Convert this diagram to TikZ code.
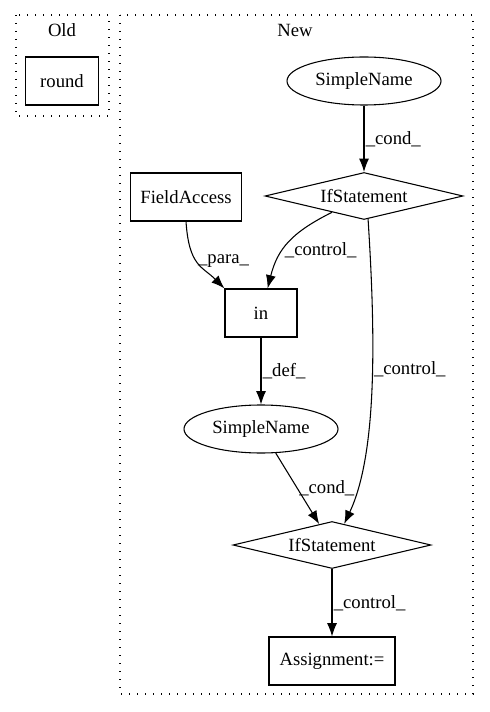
\documentclass[tikz,border=0pt]{standalone}
\usepackage{fontspec}
\setmainfont{Liberation Serif}
\usetikzlibrary{shapes.geometric, arrows.meta, positioning}
\tikzstyle{box} = [rectangle, draw=black, line width=0.8pt, minimum height=36pt, inner sep=0pt]
\tikzstyle{oval} = [ellipse, draw=black, line width=0.8pt, minimum width=115.5pt, minimum height=36pt, inner sep=0pt]
\tikzstyle{decision} = [diamond, aspect=4, draw=black, line width=0.8pt, minimum width=148.5pt, minimum height=35.25pt, inner sep=0pt]
\tikzstyle{cluster} = [draw=black, line width=1pt, dash pattern=on 1pt off 5pt]
\tikzstyle{arrow} = [line width=0.8pt, -{Latex[length=10pt,width=7.5pt]}]
\tikzstyle{lbl} = [anchor=west, inner sep=1pt]

\begin{document}
\begin{tikzpicture}[x=0.75pt, y=-0.75pt, font=\fontsize{14}{16}\selectfont]
\useasboundingbox (0,0) rectangle (489,712);

% Clusters
\draw [cluster] (16,15) rectangle (109,116);
\node (oldlabel) at (62,30) {Old};
\draw [cluster] (120,15) rectangle (473,694);
\node (newlabel) at (295,30) {New};

% Old
\node (round) [box, minimum width=54.75pt] at (62,81) {round};

% New
\node (sname1) [oval] at (364,81) {SimpleName};
\node (if1) [decision] at (364,196) {IfStatement};
\node (field) [box, minimum width=83.25pt] at (186,197) {FieldAccess};
\node (inop) [box, minimum width=54pt] at (261,313) {in};
\node (sname2) [oval] at (261,429) {SimpleName};
\node (if2) [decision] at (332,545) {IfStatement};
\node (assign) [box, minimum width=94.5pt] at (332,661) {Assignment:=};

% Arrows
\draw [arrow] (sname1) -- node [lbl] {\_cond\_} (if1);
\draw [arrow] (field.south) .. controls +(3,45) and +(-22,-22) .. node [lbl, pos=0.45] {\_para\_} (inop.north west);
\draw [arrow] (if1.-153) .. controls +(-40,20) and +(10,-40) .. node [lbl, pos=0.6] {\_control\_} (inop.75);
\draw [arrow] (if1.-80) .. controls +(7,110) and +(34,-72) .. node [lbl, pos=0.45] {\_control\_} (if2.60);
\draw [arrow] (inop) -- node [lbl] {\_def\_} (sname2);
\draw [arrow] (sname2) -- node [lbl] {\_cond\_} (if2);
\draw [arrow] (if2) -- node [lbl] {\_control\_} (assign);

\end{tikzpicture}
\end{document}
